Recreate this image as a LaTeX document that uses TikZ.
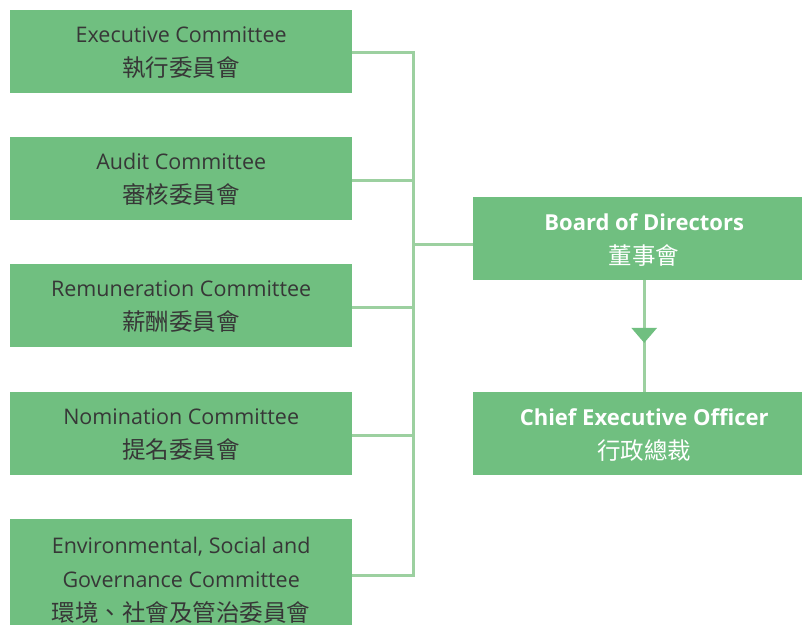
\documentclass[tikz,border=0pt]{standalone}
\usepackage{fontspec}
\setmainfont{Open Sans}
\newfontfamily\cjk{Noto Sans CJK TC}
\newcommand\zh[1]{{\cjk\fontsize{23.5}{34}\selectfont #1}}
\usetikzlibrary{arrows.meta,decorations.markings}
\definecolor{boxgreen}{RGB}{112,191,128}
\definecolor{linegreen}{RGB}{156,208,160}
\definecolor{inkgray}{RGB}{55,55,55}
\begin{document}
\begin{tikzpicture}[x=1pt,y=-1pt,
	committee/.style={fill=boxgreen,text=inkgray,anchor=north west,minimum width=342pt,
		minimum height=83pt,align=center,inner sep=0pt,text depth=-3pt,font=\fontsize{21.5}{34}\selectfont},
	office/.style={fill=boxgreen,text=white,anchor=north west,minimum width=342pt,
		minimum height=83pt,align=center,inner sep=0pt,text depth=-3pt,font=\fontsize{22}{34}\selectfont\bfseries},
	link/.style={draw=linegreen,line width=3pt}]
	\useasboundingbox (0,0) rectangle (802,624);

	\node[committee] at (10,10)  (exec)  {Executive Committee\\\zh{執行委員會}};
	\node[committee] at (10,137) (audit) {Audit Committee\\\zh{審核委員會}};
	\node[committee] at (10,264) (remun) {Remuneration Committee\\\zh{薪酬委員會}};
	\node[committee] at (10,392) (nomin) {Nomination Committee\\\zh{提名委員會}};
	\node[committee,minimum height=120pt] at (10,519) (esg)
		{Environmental, Social and\\Governance Committee\\\zh{環境、社會及管治委員會}};

	\node[office] at (473,197) (board) {Board of Directors\\\zh{\mdseries 董事會}};
	\node[office] at (473,392) (ceo)   {Chief Executive Officer\\\zh{\mdseries 行政總裁}};

	\coordinate (hub) at (413,244);
	\draw[link] ([yshift=-1pt]exec.east) -| (hub);
	\draw[link] ([yshift=-2pt]audit.east) -| (hub);
	\draw[link] ([yshift=-2pt]remun.east) -| (hub);
	\draw[link] ([yshift=-2pt]nomin.east) -| (hub);
	\draw[link] ([yshift=4pt]esg.east) -| (hub);
	\draw[link] (hub) -- (hub -| board.west);
	\draw[link,postaction={decorate},decoration={markings,
		mark=at position 0.56 with {\arrow{Triangle[width=25pt,length=15pt,fill=boxgreen,color=boxgreen]}}}]
		(board) -- (ceo);
\end{tikzpicture}
\end{document}
